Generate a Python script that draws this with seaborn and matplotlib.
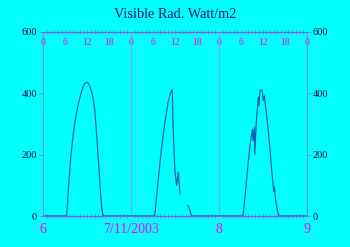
import numpy as np
import pandas as pd
import matplotlib
matplotlib.use("Agg")
import matplotlib.pyplot as plt
from matplotlib.ticker import MultipleLocator
import seaborn as sns

# ---- data (hour of day, W/m2) ----
day6_hours = [0, 6.4, 6.8, 7.5, 8.2, 8.8, 9.5, 10.3, 10.9, 11.4, 11.8, 12.3, 12.7, 13.4,
              14.1, 14.6, 15.1, 15.5, 15.9, 16.2, 16.5, 24]
day6_values = [0, 0, 80, 190, 268, 318, 362, 400, 424, 433, 436, 433, 424, 398,
               344, 262, 175, 98, 35, 8, 0, 0]

day7a_hours = [0, 6.4, 6.5, 7.4, 8.35, 9.3, 10.2, 10.8, 11.25, 11.5, 11.8, 12.0, 12.45,
               12.9, 13.1, 13.4]
day7a_values = [0, 0, 5, 117, 225, 311, 376, 403, 413, 283, 197, 143, 100,
                143, 110, 70]

day7b_hours = [15.5, 16.1, 16.5, 24]
day7b_values = [35, 18, 0, 0]

day8_hours = [0, 6.6, 7.15, 7.6, 8.05, 8.5, 9.15, 9.4, 9.7, 9.8, 10.15, 10.3, 10.6,
              10.75, 10.95, 11.2, 11.7, 11.9, 12.1, 12.4, 12.9, 13.4, 13.9, 14.3,
              14.7, 15.0, 15.2, 15.4, 15.8, 16.2, 16.5, 24]
day8_values = [0, 0, 63, 122, 180, 230, 283, 246, 290, 202, 289, 322, 359,
               387, 360, 409, 411, 403, 376, 392, 345, 290, 225, 165,
               117, 80, 95, 60, 30, 8, 0, 0]

day_ticks = [6, 7, 8, 9]
day_labels = ["6", "7/11/2003", "8", "9"]
top_labels = ["0", "6", "12", "18", "0", "6", "12", "18", "0", "6", "12", "18", "0"]
y_ticks = [0, 200, 400, 600]

# ---- build table ----
pieces = [
    (0, 6, day6_hours, day6_values),
    (0, 7, day7a_hours, day7a_values),
    (1, 7, day7b_hours, day7b_values),
    (1, 8, day8_hours, day8_values),
]
rows = []
for seg, day, hrs, vals in pieces:
    for h, v in zip(hrs, vals):
        rows.append({"seg": seg, "day": day + h / 24.0, "value": v})
df = pd.DataFrame(rows)

sns.set_theme(style="white")
plt.rcParams["font.family"] = ["Liberation Serif", "DejaVu Serif"]

BG = "#00ffff"
fig = plt.figure(figsize=(3.5, 2.47), dpi=100, facecolor=BG)
ax = fig.add_axes([43.3 / 350, 1 - 216 / 247, (306.7 - 43.3) / 350, (216 - 32) / 247])
ax.set_facecolor(BG)

sns.lineplot(data=df, x="day", y="value", units="seg", estimator=None, sort=False,
             color="#1058c0", lw=0.85, ax=ax, legend=False)

ax.set_xlim(6, 9)
ax.set_ylim(0, 600)
ax.set_xlabel("")
ax.set_ylabel("")
ax.set_xticks(day_ticks, day_labels)
ax.set_yticks(y_ticks)
ax.xaxis.set_minor_locator(MultipleLocator(1 / 24))

ax.grid(axis="x", which="major", color="#70a8f0", lw=0.8)
ax.grid(axis="y", visible=False)

ax.tick_params(axis="x", which="major", length=0, labelsize=10,
               labelcolor="#ff00ff", pad=5)
ax.tick_params(axis="x", which="minor", bottom=True, top=True, length=2.5,
               width=0.5, color="#b050e0", direction="inout")
ax.tick_params(axis="y", which="major", left=True, right=True, labelleft=True,
               labelright=True, length=3, width=0.7, color="#50a0e0",
               labelsize=7.5, labelcolor="#000050", pad=1.5, direction="out")

for side in ["left", "right"]:
    ax.spines[side].set_color("#50a0e0")
    ax.spines[side].set_linewidth(0.8)
for side in ["top", "bottom"]:
    ax.spines[side].set_color("#8060e0")
    ax.spines[side].set_linewidth(0.8)

sec = ax.secondary_xaxis("top")
sec.set_xticks([6 + i / 4 for i in range(len(top_labels))], top_labels)
sec.tick_params(axis="x", length=0, pad=-4, labelsize=7, labelcolor="#ff00ff")
for lbl in sec.get_xticklabels():
    lbl.set_va("top")
sec.spines["top"].set_visible(False)

fig.text(0.5, 1 - 15 / 247, "Visible Rad. Watt/m2", ha="center", va="center",
         fontsize=10.3, color="#101070")

fig.savefig("out.png", dpi=100, facecolor=BG)
